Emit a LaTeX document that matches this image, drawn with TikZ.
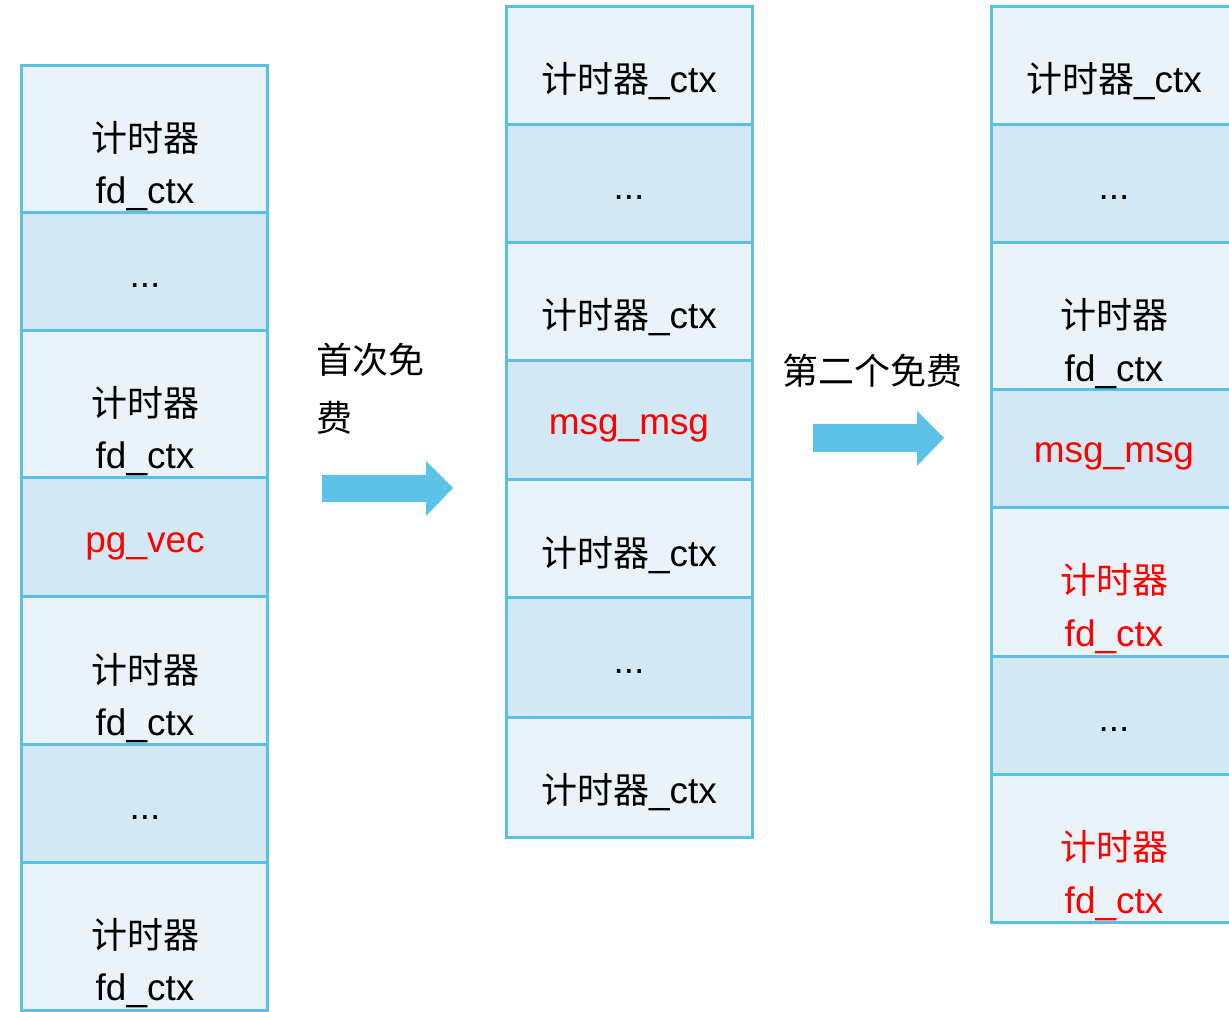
\documentclass[tikz,border=0pt]{standalone}
\usepackage{fontspec}
\setmainfont{Liberation Sans}
\newfontfamily\cjk{Noto Sans CJK SC}
\usetikzlibrary{fit}

\definecolor{edge}{HTML}{5BC0E6}
\definecolor{cellL}{HTML}{EAF3F9}
\definecolor{cellD}{HTML}{D2E9F5}
\definecolor{arrowblue}{HTML}{5CC2E7}
\definecolor{hotred}{HTML}{FF0000}

\newcommand\zh[1]{{\cjk\fontsize{27}{32}\selectfont #1}}

\tikzset{
  cellbase/.style={draw=edge, line width=2.25pt, inner sep=0pt},
  lightcell/.style={cellbase, fill=cellL},
  darkcell/.style={cellbase, fill=cellD},
  lbl/.style={anchor=base, inner sep=0pt, font=\fontsize{27.7}{33}\selectfont},
  hot/.style={text=hotred},
  note/.style={anchor=base west, inner sep=0pt},
  blockarrow/.style={fill=arrowblue, draw=none}
}

\begin{document}
\begin{tikzpicture}[x=0.75pt, y=-0.75pt]
\useasboundingbox (0,0) rectangle (1229,1012);

% ---- left stack ----
\node[lightcell, fit={(21,66)(267,213)}]   (a1) {};
\node[darkcell,  fit={(21,213)(267,331)}]  (a2) {};
\node[lightcell, fit={(21,331)(267,478)}]  (a3) {};
\node[darkcell,  fit={(21,478)(267,597)}]  (a4) {};
\node[lightcell, fit={(21,597)(267,744)}]  (a5) {};
\node[darkcell,  fit={(21,744)(267,862)}]  (a6) {};
\node[lightcell, fit={(21,862)(267,1010)}] (a7) {};

\node[lbl] (a1t) at (145,152) {\zh{计时器}};
\node[lbl] (a1b) at (145,204) {fd\_ctx};
\node[lbl] (a2t) at (145,288) {...};
\node[lbl] (a3t) at (145,417) {\zh{计时器}};
\node[lbl] (a3b) at (145,469) {fd\_ctx};
\node[lbl, hot] (a4t) at (145,552) {pg\_vec};
\node[lbl] (a5t) at (145,683) {\zh{计时器}};
\node[lbl] (a5b) at (145,735) {fd\_ctx};
\node[lbl] (a6t) at (145,819) {...};
\node[lbl] (a7t) at (145,948) {\zh{计时器}};
\node[lbl] (a7b) at (145,1000) {fd\_ctx};

% ---- middle stack ----
\node[lightcell, fit={(506,7)(752,125)}]   (b1) {};
\node[darkcell,  fit={(506,125)(752,243)}] (b2) {};
\node[lightcell, fit={(506,243)(752,361)}] (b3) {};
\node[darkcell,  fit={(506,361)(752,480)}] (b4) {};
\node[lightcell, fit={(506,480)(752,598)}] (b5) {};
\node[darkcell,  fit={(506,598)(752,717)}] (b6) {};
\node[lightcell, fit={(506,717)(752,837)}] (b7) {};

\node[lbl] (b1t) at (629,93)  {\zh{计时器}\_ctx};
\node[lbl] (b2t) at (629,200) {...};
\node[lbl] (b3t) at (629,329) {\zh{计时器}\_ctx};
\node[lbl, hot] (b4t) at (629,435) {msg\_msg};
\node[lbl] (b5t) at (629,566) {\zh{计时器}\_ctx};
\node[lbl] (b6t) at (629,673) {...};
\node[lbl] (b7t) at (629,803) {\zh{计时器}\_ctx};

% ---- right stack (runs past the right edge) ----
\node[lightcell, fit={(991,7)(1237,125)}]   (c1) {};
\node[darkcell,  fit={(991,125)(1237,243)}] (c2) {};
\node[lightcell, fit={(991,243)(1237,390)}] (c3) {};
\node[darkcell,  fit={(991,390)(1237,508)}] (c4) {};
\node[lightcell, fit={(991,508)(1237,656)}] (c5) {};
\node[darkcell,  fit={(991,656)(1237,774)}] (c6) {};
\node[lightcell, fit={(991,774)(1237,922)}] (c7) {};

\node[lbl] (c1t) at (1114,93)  {\zh{计时器}\_ctx};
\node[lbl] (c2t) at (1114,200) {...};
\node[lbl] (c3t) at (1114,329) {\zh{计时器}};
\node[lbl] (c3b) at (1114,382) {fd\_ctx};
\node[lbl, hot] (c4t) at (1114,463) {msg\_msg};
\node[lbl, hot] (c5t) at (1114,594) {\zh{计时器}};
\node[lbl, hot] (c5b) at (1114,647) {fd\_ctx};
\node[lbl] (c6t) at (1114,731) {...};
\node[lbl, hot] (c7t) at (1114,860) {\zh{计时器}};
\node[lbl, hot] (c7b) at (1114,913) {fd\_ctx};

% ---- step labels ----
\node[note] (n1a) at (316,374) {\zh{首次免}};
\node[note] (n1b) at (316,432) {\zh{费}};
\node[note] (n2)  at (782,385) {\zh{第二个免费}};

% ---- block arrows ----
\path[blockarrow] (322,475) -- (426,475) -- (426,461) -- (453,488)
  -- (426,516) -- (426,502) -- (322,502) -- cycle;
\path[blockarrow] (813,424) -- (917,424) -- (917,411) -- (944,438)
  -- (917,466) -- (917,452) -- (813,452) -- cycle;
\end{tikzpicture}
\end{document}
